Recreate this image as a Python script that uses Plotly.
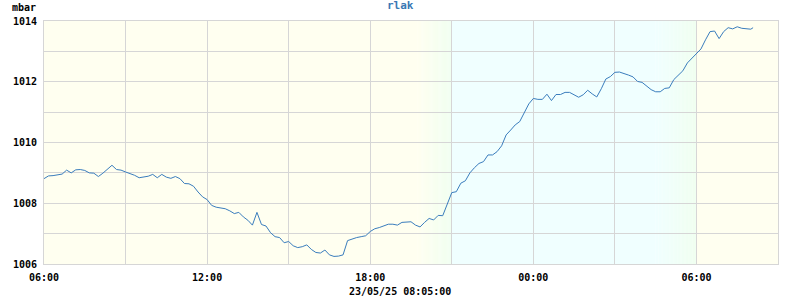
import plotly.graph_objects as go
import pandas as pd

# ---- data ----
start_time = "2025-05-22 06:00"
pressure = [
    1008.81, 1008.90, 1008.91, 1008.93, 1008.96, 1009.09, 1009.00, 1009.10, 1009.11, 1009.08,
    1009.00, 1008.99, 1008.88, 1008.99, 1009.12, 1009.25, 1009.11, 1009.09, 1009.03, 1008.98,
    1008.92, 1008.84, 1008.86, 1008.89, 1008.95, 1008.84, 1008.95, 1008.86, 1008.82, 1008.88,
    1008.81, 1008.65, 1008.64, 1008.56, 1008.37, 1008.21, 1008.12, 1007.93, 1007.87, 1007.85,
    1007.82, 1007.75, 1007.66, 1007.70, 1007.55, 1007.44, 1007.28, 1007.70, 1007.30, 1007.25,
    1007.03, 1006.90, 1006.87, 1006.70, 1006.74, 1006.60, 1006.54, 1006.57, 1006.63, 1006.48,
    1006.38, 1006.36, 1006.46, 1006.30, 1006.25, 1006.26, 1006.30, 1006.77, 1006.83, 1006.87,
    1006.90, 1006.93, 1007.07, 1007.16, 1007.20, 1007.25, 1007.31, 1007.31, 1007.28, 1007.37,
    1007.39, 1007.39, 1007.28, 1007.22, 1007.37, 1007.50, 1007.45, 1007.60, 1007.59, 1007.95,
    1008.35, 1008.38, 1008.66, 1008.74, 1009.00, 1009.17, 1009.31, 1009.37, 1009.59, 1009.59,
    1009.70, 1009.89, 1010.25, 1010.41, 1010.58, 1010.69, 1010.96, 1011.27, 1011.45, 1011.42,
    1011.42, 1011.59, 1011.38, 1011.58, 1011.58, 1011.65, 1011.65, 1011.57, 1011.49, 1011.57,
    1011.72, 1011.60, 1011.50, 1011.77, 1012.09, 1012.17, 1012.31, 1012.32, 1012.28, 1012.22,
    1012.16, 1012.01, 1011.98, 1011.87, 1011.74, 1011.67, 1011.67, 1011.78, 1011.80, 1012.07,
    1012.21, 1012.36, 1012.62, 1012.78, 1012.93, 1013.08, 1013.38, 1013.65, 1013.67, 1013.42,
    1013.65, 1013.78, 1013.74, 1013.81, 1013.76, 1013.74, 1013.73, 1013.78,
]
times = list(pd.date_range(start_time, periods=len(pressure) - 1, freq="10min")) + [
    pd.Timestamp("2025-05-23 08:05")
]
x_range = ["2025-05-22 06:00", "2025-05-23 09:00"]
y_range = [1006, 1014]
y_ticks = [1006, 1008, 1010, 1012, 1014]
title_text = "rlak"
unit_text = "mbar"
stamp_text = "23/05/25 08:05:00"

# day / night background
sunset_start, sunset_end = "2025-05-22 19:45", "2025-05-22 21:00"
sunrise_start, sunrise_end = "2025-05-23 04:30", "2025-05-23 06:00"
DAY = (255, 255, 240)
TWI = (240, 255, 240)
NIGHT = (240, 255, 255)

FONT = "DejaVu Sans Mono"
GRID = "#d6d6d6"
LINE = "#3a7dbd"

fig = go.Figure()
fig.add_trace(go.Scatter(x=times, y=pressure, mode="lines",
                         line=dict(color=LINE, width=1), hoverinfo="skip"))


def rgb(c):
    return "rgb(%d,%d,%d)" % c


def mix(a, b, t):
    return tuple(round(a[i] + (b[i] - a[i]) * t) for i in range(3))


shapes = []
def band(x0, x1, color):
    shapes.append(dict(type="rect", xref="x", yref="paper", x0=x0, x1=x1, y0=0, y1=1,
                       fillcolor=color, line=dict(width=0), layer="below"))

band(x_range[0], sunset_start, rgb(DAY))
band(sunset_end, sunrise_start, rgb(NIGHT))
band(sunrise_end, x_range[1], rgb(DAY))
N = 30
s0, s1 = pd.Timestamp(sunset_start), pd.Timestamp(sunset_end)
r0, r1 = pd.Timestamp(sunrise_start), pd.Timestamp(sunrise_end)
for i in range(N):
    t = (i + 0.5) / N
    a = s0 + (s1 - s0) * i / N
    b = s0 + (s1 - s0) * (i + 1) / N
    band(a, b + pd.Timedelta(seconds=30), rgb(mix(DAY, TWI, t)))
    a = r0 + (r1 - r0) * i / N
    b = r0 + (r1 - r0) * (i + 1) / N
    band(a, b + pd.Timedelta(seconds=30), rgb(mix(NIGHT, TWI, t)))

W, H = 800, 300
L, R, T, B = 44, 22, 21, 36
pw, ph = W - L - R, H - T - B

def px(xp):
    return (xp - L) / pw

def py(yp):
    return (H - B - yp) / ph

fig.update_layout(
    width=W, height=H,
    margin=dict(l=L, r=R, t=T, b=B, pad=0),
    paper_bgcolor="white",
    plot_bgcolor="rgba(0,0,0,0)",
    showlegend=False,
    shapes=shapes,
    font=dict(family=FONT, size=10, color="black", weight="bold"),
    xaxis=dict(
        type="date", range=x_range, dtick=6 * 3600 * 1000, tick0="2025-05-22 06:00",
        tickformat="%H:%M", showgrid=True, gridcolor=GRID, gridwidth=1,
        minor=dict(dtick=3 * 3600 * 1000, showgrid=True, gridcolor=GRID, gridwidth=1),
        showline=True, linecolor=GRID, linewidth=1, mirror=True,
        ticks="outside", ticklen=4, tickcolor="rgba(0,0,0,0)",
        tickfont=dict(family=FONT, size=10, color="black", weight="bold"),
        zeroline=False, fixedrange=True,
    ),
    yaxis=dict(
        range=y_range, tickvals=y_ticks, showgrid=True, gridcolor=GRID, gridwidth=1,
        minor=dict(dtick=1, showgrid=True, gridcolor=GRID, gridwidth=1),
        showline=True, linecolor=GRID, linewidth=1, mirror=True,
        ticks="outside", ticklen=4, tickcolor="rgba(0,0,0,0)",
        tickfont=dict(family=FONT, size=10, color="black", weight="bold"),
        zeroline=False, fixedrange=True,
    ),
    annotations=[
        dict(text=unit_text, xref="paper", yref="paper", x=px(10), y=py(8),
             xanchor="left", yanchor="middle", showarrow=False,
             font=dict(family=FONT, size=10, color="black", weight="bold")),
        dict(text=title_text, xref="paper", yref="paper", x=px(400), y=py(5.5),
             xanchor="center", yanchor="middle", showarrow=False,
             font=dict(family=FONT, size=11, color="#3a78b4", weight="bold")),
        dict(text=stamp_text, xref="paper", yref="paper", x=px(399.5), y=py(291),
             xanchor="center", yanchor="middle", showarrow=False,
             font=dict(family=FONT, size=10, color="black", weight="bold")),
    ],
)

fig.write_html("out.html")
